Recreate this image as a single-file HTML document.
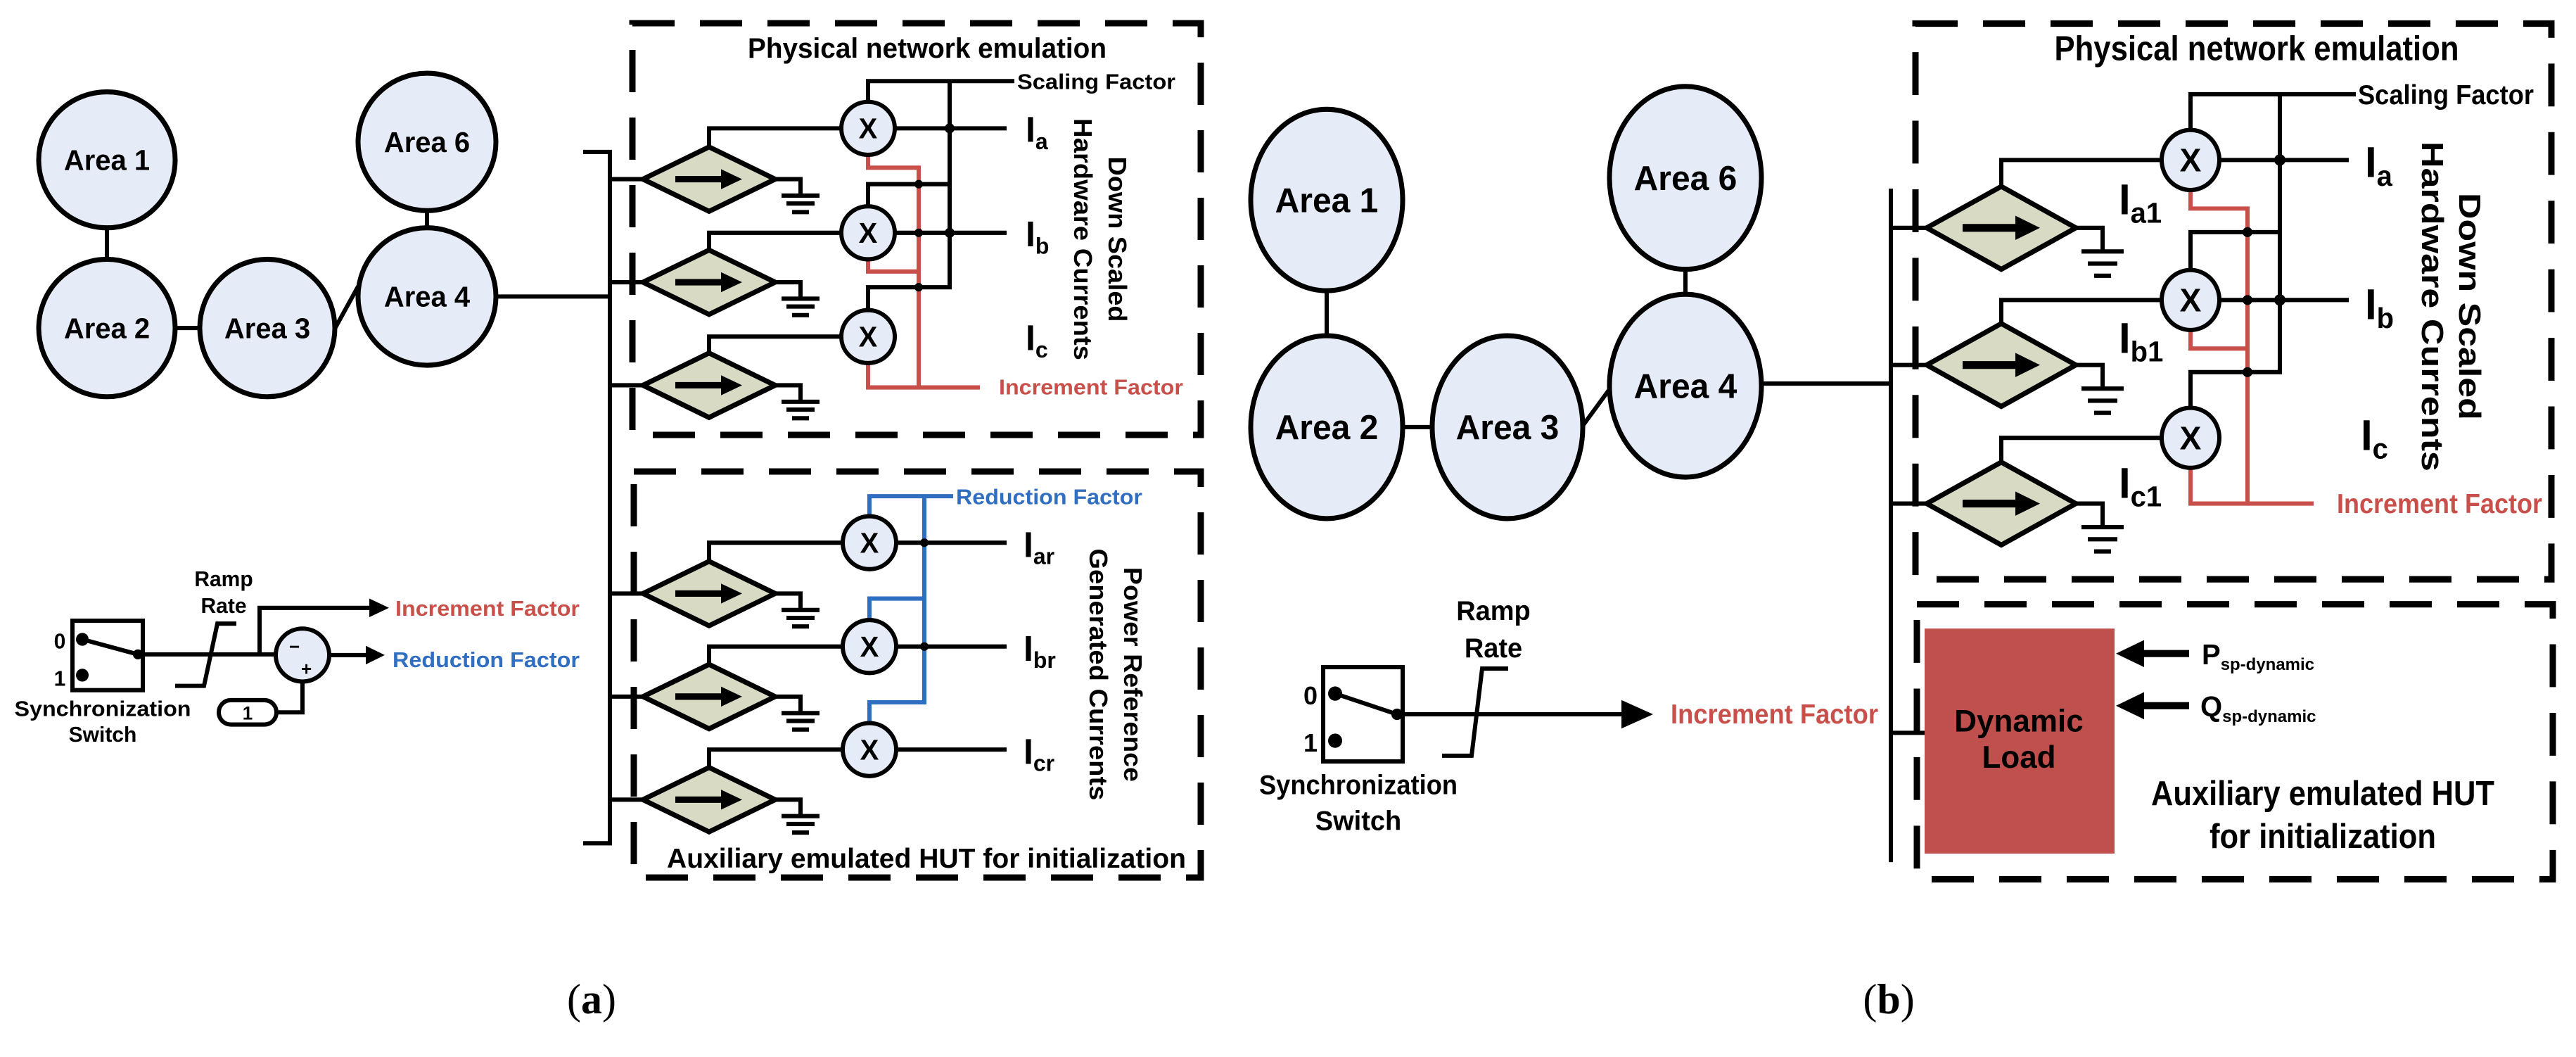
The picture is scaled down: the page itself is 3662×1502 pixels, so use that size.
<!DOCTYPE html>
<html><head><meta charset="utf-8"><style>
html,body{margin:0;padding:0;background:#fff;}
svg{display:block;}
text{font-family:"Liberation Sans Narrow","Liberation Sans",sans-serif;font-weight:bold;}
.s{stroke:#000;stroke-width:6;fill:none;}
.r{stroke:#c9504a;stroke-width:6;fill:none;}
.b{stroke:#2f6ec0;stroke-width:6;fill:none;}
.d{stroke:#000;stroke-width:9;fill:none;stroke-dasharray:60 36;}
.el{fill:#e6ecf7;stroke:#000;stroke-width:7;}
.dm{fill:#d8dac4;stroke:#000;stroke-width:7;}
.x{fill:#e6ecf7;stroke:#000;stroke-width:6;}
</style></head><body>
<svg width="3662" height="1502" viewBox="0 0 3662 1502" xmlns="http://www.w3.org/2000/svg">

<!-- ================= PANEL A ================= -->
<g transform="translate(0,-1.7) scale(1,1.017)">
<line class="s" x1="152" y1="320" x2="152" y2="365"/>
<line class="s" x1="249" y1="460" x2="284" y2="460"/>
<line class="s" x1="607" y1="296" x2="607" y2="320"/>
<line class="s" x1="477" y1="459" x2="509" y2="402"/>
<line class="s" x1="705" y1="416" x2="867" y2="416"/>
<ellipse class="el" cx="152" cy="225" rx="97" ry="95"/>
<ellipse class="el" cx="152" cy="460" rx="97" ry="96"/>
<ellipse class="el" cx="380" cy="460" rx="96" ry="96"/>
<ellipse class="el" cx="607" cy="416" rx="98" ry="96"/>
<ellipse class="el" cx="607" cy="200" rx="98" ry="96"/>
<g font-size="40" text-anchor="middle">
<text x="152" y="239">Area 1</text><text x="152" y="474">Area 2</text>
<text x="380" y="474">Area 3</text><text x="607" y="430">Area 4</text>
<text x="607" y="214">Area 6</text></g>
<path class="s" d="M829,214 H867 V1180 H829"/>
</g>

<rect class="d" x="899" y="33" width="808" height="585"/>
<rect class="d" x="901" y="670" width="806" height="577"/>
<text x="1318" y="82" font-size="40" text-anchor="middle" textLength="510" lengthAdjust="spacingAndGlyphs">Physical network emulation</text>

<g transform="translate(0,-1.7) scale(1,1.017)">
<path class="s" d="M1234,144 V115 H1442"/>
<path class="s" d="M1350,115 V403 H1234 V435"/>
<path class="s" d="M1350,259 H1234 V290"/>
<line class="s" x1="1272" y1="181" x2="1431" y2="181"/>
<line class="s" x1="1272" y1="327" x2="1431" y2="327"/>
<path class="r" d="M1234,218 V236 H1306 V543 M1234,364 V381 H1306 M1234,509 V543 H1393"/>
<g fill="#000"><circle cx="1350" cy="181" r="7"/><circle cx="1350" cy="327" r="7"/></g>
<g fill="#000"><circle cx="1306" cy="259" r="6"/><circle cx="1306" cy="327" r="6"/><circle cx="1306" cy="403" r="6"/></g>

<g>
<path class="s" d="M867,252 H914 M1008,207 V181 H1197 M1102,252 H1138 V275"/>
<polygon class="dm" points="914,252 1008,207 1102,252 1008,297"/>
<path class="s" d="M1111,275 H1165 M1118,286 H1158 M1126,298 H1150"/>
<line x1="960" y1="252" x2="1030" y2="252" stroke="#000" stroke-width="9"/>
<path d="M1025,238 L1055,252 L1025,266z" fill="#000"/>
</g>
<g>
<path class="s" d="M867,396 H914 M1008,351 V327 H1197 M1102,396 H1138 V419"/>
<polygon class="dm" points="914,396 1008,351 1102,396 1008,441"/>
<path class="s" d="M1111,419 H1165 M1118,430 H1158 M1126,442 H1150"/>
<line x1="960" y1="396" x2="1030" y2="396" stroke="#000" stroke-width="9"/>
<path d="M1025,382 L1055,396 L1025,410z" fill="#000"/>
</g>
<g>
<path class="s" d="M867,540 H914 M1008,495 V472 H1197 M1102,540 H1138 V563"/>
<polygon class="dm" points="914,540 1008,495 1102,540 1008,585"/>
<path class="s" d="M1111,563 H1165 M1118,574 H1158 M1126,586 H1150"/>
<line x1="960" y1="540" x2="1030" y2="540" stroke="#000" stroke-width="9"/>
<path d="M1025,526 L1055,540 L1025,554z" fill="#000"/>
</g>
<g font-size="40" text-anchor="middle">
<ellipse class="x" cx="1234" cy="181" rx="38" ry="37"/><text x="1234" y="195">X</text>
<ellipse class="x" cx="1234" cy="327" rx="38" ry="37"/><text x="1234" y="341">X</text>
<ellipse class="x" cx="1234" cy="472" rx="38" ry="37"/><text x="1234" y="486">X</text>
</g>
<text x="1446" y="126" font-size="30" textLength="225" lengthAdjust="spacingAndGlyphs">Scaling Factor</text>
<text x="1420" y="553" font-size="30" fill="#c9504a" textLength="262" lengthAdjust="spacingAndGlyphs">Increment Factor</text>
<g font-size="50"><text x="1458" y="200">I<tspan font-size="32" dy="10">a</tspan></text>
<text x="1458" y="346">I<tspan font-size="32" dy="10">b</tspan></text>
<text x="1458" y="491">I<tspan font-size="32" dy="10">c</tspan></text></g>
<g font-size="36" text-anchor="middle" style="font-family:'Liberation Sans',sans-serif">
<text transform="translate(1527,336) rotate(90)" textLength="338" lengthAdjust="spacingAndGlyphs" style="font-family:'Liberation Sans',sans-serif">Hardware Currents</text>
<text transform="translate(1576,336) rotate(90)" textLength="231" lengthAdjust="spacingAndGlyphs" style="font-family:'Liberation Sans',sans-serif">Down Scaled</text>
</g>

<path class="b" d="M1236,723 V695 H1355 M1314,695 V983 H1236 V1012 M1314,838 H1236 V868"/>
<g fill="#000"><circle cx="1314" cy="760" r="6"/><circle cx="1314" cy="905" r="6"/></g>
<line class="s" x1="1274" y1="760" x2="1431" y2="760"/>
<line class="s" x1="1274" y1="905" x2="1431" y2="905"/>
<line class="s" x1="1274" y1="1049" x2="1431" y2="1049"/>
<g>
<path class="s" d="M867,831 H914 M1008,786 V760 H1198 M1102,831 H1138 V854"/>
<polygon class="dm" points="914,831 1008,786 1102,831 1008,876"/>
<path class="s" d="M1111,854 H1165 M1118,865 H1158 M1126,877 H1150"/>
<line x1="960" y1="831" x2="1030" y2="831" stroke="#000" stroke-width="9"/>
<path d="M1025,817 L1055,831 L1025,845z" fill="#000"/>
</g>
<g>
<path class="s" d="M867,975 H914 M1008,930 V905 H1198 M1102,975 H1138 V998"/>
<polygon class="dm" points="914,975 1008,930 1102,975 1008,1020"/>
<path class="s" d="M1111,998 H1165 M1118,1009 H1158 M1126,1021 H1150"/>
<line x1="960" y1="975" x2="1030" y2="975" stroke="#000" stroke-width="9"/>
<path d="M1025,961 L1055,975 L1025,989z" fill="#000"/>
</g>
<g>
<path class="s" d="M867,1119 H914 M1008,1074 V1049 H1198 M1102,1119 H1138 V1142"/>
<polygon class="dm" points="914,1119 1008,1074 1102,1119 1008,1164"/>
<path class="s" d="M1111,1142 H1165 M1118,1153 H1158 M1126,1165 H1150"/>
<line x1="960" y1="1119" x2="1030" y2="1119" stroke="#000" stroke-width="9"/>
<path d="M1025,1105 L1055,1119 L1025,1133z" fill="#000"/>
</g>
<g font-size="40" text-anchor="middle">
<ellipse class="x" cx="1236" cy="760" rx="38" ry="37"/><text x="1236" y="774">X</text>
<ellipse class="x" cx="1236" cy="905" rx="38" ry="37"/><text x="1236" y="919">X</text>
<ellipse class="x" cx="1236" cy="1049" rx="38" ry="37"/><text x="1236" y="1063">X</text>
</g>
<text x="1359" y="706" font-size="30" fill="#2f6ec0" textLength="265" lengthAdjust="spacingAndGlyphs">Reduction Factor</text>
<g font-size="50"><text x="1455" y="780">I<tspan font-size="32" dy="10">ar</tspan></text>
<text x="1455" y="925">I<tspan font-size="32" dy="10">br</tspan></text>
<text x="1455" y="1069">I<tspan font-size="32" dy="10">cr</tspan></text></g>
<g font-size="36" text-anchor="middle">
<text transform="translate(1549,944) rotate(90)" textLength="352" lengthAdjust="spacingAndGlyphs" style="font-family:'Liberation Sans',sans-serif">Generated Currents</text>
<text transform="translate(1598,944) rotate(90)" textLength="300" lengthAdjust="spacingAndGlyphs" style="font-family:'Liberation Sans',sans-serif">Power Reference</text>
</g>
<text x="1317" y="1214" font-size="38" text-anchor="middle" textLength="738" lengthAdjust="spacingAndGlyphs">Auxiliary emulated HUT for initialization</text>

<rect class="s" x="103" y="869" width="100" height="97"/>
<circle cx="117" cy="895" r="9" fill="#000"/><circle cx="117" cy="945" r="9" fill="#000"/>
<circle cx="196" cy="916" r="7" fill="#000"/>
<line class="s" x1="117" y1="895" x2="196" y2="916"/>
<text x="85" y="908" font-size="30" text-anchor="middle">0</text>
<text x="85" y="960" font-size="30" text-anchor="middle">1</text>
<line class="s" x1="196" y1="916" x2="392" y2="916"/>
<path class="s" d="M249,960 H290 L309,873 H336"/>
<text x="318" y="821" font-size="30" text-anchor="middle">Ramp</text>
<text x="318" y="858" font-size="30" text-anchor="middle">Rate</text>
<path class="s" d="M369,916 V851 H530"/>
<path d="M525,838 L553,851 L525,864z" fill="#000"/>
<text x="562" y="862" font-size="30" fill="#c9504a" textLength="262" lengthAdjust="spacingAndGlyphs">Increment Factor</text>
<ellipse class="x" cx="430" cy="917" rx="38" ry="37"/>
<text x="411" y="914" font-size="26">−</text><text x="428" y="945" font-size="26">+</text>
<line class="s" x1="468" y1="917" x2="525" y2="917"/>
<path d="M520,904 L547,917 L520,930z" fill="#000"/>
<text x="558" y="934" font-size="30" fill="#2f6ec0" textLength="266" lengthAdjust="spacingAndGlyphs">Reduction Factor</text>
<rect class="s" x="311" y="980" width="82" height="34" rx="17"/>
<text x="352" y="1007" font-size="26" text-anchor="middle">1</text>
<path class="s" d="M393,997 H430 V954"/>
<text x="146" y="1002" font-size="30" text-anchor="middle" textLength="251" lengthAdjust="spacingAndGlyphs">Synchronization</text>
<text x="146" y="1038" font-size="30" text-anchor="middle">Switch</text>
</g>

<text x="841" y="1440" font-size="60" text-anchor="middle" style="font-family:'Liberation Serif',serif;font-weight:normal">(<tspan style="font-weight:bold">a</tspan>)</text>
<text x="2685" y="1440" font-size="60" text-anchor="middle" style="font-family:'Liberation Serif',serif;font-weight:normal">(<tspan style="font-weight:bold">b</tspan>)</text>

<!-- ================= PANEL B ================= -->
<g transform="scale(1,1.015)">
<line class="s" x1="1886" y1="405" x2="1886" y2="473"/>
<line class="s" x1="1994" y1="598" x2="2035" y2="598"/>
<line class="s" x1="2396" y1="375" x2="2396" y2="414"/>
<line class="s" x1="2250" y1="596" x2="2288" y2="545"/>
<line class="s" x1="2504" y1="537" x2="2688" y2="537"/>
<ellipse class="el" cx="1886" cy="280" rx="108" ry="127"/>
<ellipse class="el" cx="1886" cy="598" rx="108" ry="128"/>
<ellipse class="el" cx="2143" cy="598" rx="107" ry="128"/>
<ellipse class="el" cx="2396" cy="540" rx="108" ry="128"/>
<ellipse class="el" cx="2396" cy="249" rx="108" ry="128"/>
<g font-size="48" text-anchor="middle">
<text x="1886" y="297">Area 1</text><text x="1886" y="615">Area 2</text>
<text x="2143" y="615">Area 3</text><text x="2396" y="557">Area 4</text>
<text x="2396" y="266">Area 6</text></g>
<line class="s" x1="2688" y1="264" x2="2688" y2="1207"/>

<rect class="d" x="2723" y="33" width="904" height="778"/>
<rect class="d" x="2725" y="846" width="904" height="385"/>
<text x="3208" y="84" font-size="48" text-anchor="middle" textLength="575" lengthAdjust="spacingAndGlyphs">Physical network emulation</text>

<path class="s" d="M3114,183 V132 H3349"/>
<path class="s" d="M3241,132 V521 H3114 V572"/>
<path class="s" d="M3241,325 H3114 V378"/>
<line class="s" x1="3155" y1="224" x2="3339" y2="224"/>
<line class="s" x1="3155" y1="420" x2="3339" y2="420"/>
<path class="r" d="M3114,266 V292 H3195 V705 M3114,462 V488 H3195 M3114,655 V705 H3289"/>
<g fill="#000"><circle cx="3241" cy="224" r="8"/><circle cx="3241" cy="420" r="8"/>
<circle cx="3195" cy="325" r="7"/><circle cx="3195" cy="420" r="7"/><circle cx="3195" cy="521" r="7"/></g>

<g>
<path class="s" d="M2688,319 H2739 M2845,261 V224 H3073 M2951,319 H2989 V352"/>
<polygon class="dm" points="2739,319 2845,261 2951,319 2845,377"/>
<path class="s" d="M2959,352 H3019 M2968,369 H3010 M2977,386 H3001"/>
<line x1="2790" y1="319" x2="2870" y2="319" stroke="#000" stroke-width="11"/>
<path d="M2865,302 L2900,319 L2865,336z" fill="#000"/>
</g>
<g>
<path class="s" d="M2688,511 H2739 M2845,453 V420 H3073 M2951,511 H2989 V544"/>
<polygon class="dm" points="2739,511 2845,453 2951,511 2845,569"/>
<path class="s" d="M2959,544 H3019 M2968,561 H3010 M2977,578 H3001"/>
<line x1="2790" y1="511" x2="2870" y2="511" stroke="#000" stroke-width="11"/>
<path d="M2865,494 L2900,511 L2865,528z" fill="#000"/>
</g>
<g>
<path class="s" d="M2688,705 H2739 M2845,647 V613 H3073 M2951,705 H2989 V738"/>
<polygon class="dm" points="2739,705 2845,647 2951,705 2845,763"/>
<path class="s" d="M2959,738 H3019 M2968,755 H3010 M2977,772 H3001"/>
<line x1="2790" y1="705" x2="2870" y2="705" stroke="#000" stroke-width="11"/>
<path d="M2865,688 L2900,705 L2865,722z" fill="#000"/>
</g>
<g font-size="46" text-anchor="middle">
<ellipse class="x" cx="3114" cy="224" rx="41" ry="42"/><text x="3114" y="240">X</text>
<ellipse class="x" cx="3114" cy="420" rx="41" ry="42"/><text x="3114" y="436">X</text>
<ellipse class="x" cx="3114" cy="613" rx="41" ry="42"/><text x="3114" y="629">X</text>
</g>
<text x="3352" y="146" font-size="38" textLength="250" lengthAdjust="spacingAndGlyphs">Scaling Factor</text>
<text x="3322" y="718" font-size="38" fill="#c9504a" textLength="292" lengthAdjust="spacingAndGlyphs">Increment Factor</text>
<g font-size="60"><text x="3362" y="248">I<tspan font-size="40" dy="12">a</tspan></text>
<text x="3362" y="447">I<tspan font-size="40" dy="12">b</tspan></text>
<text x="3356" y="630">I<tspan font-size="40" dy="12">c</tspan></text>
<text x="3012" y="300">I<tspan font-size="40" dy="12">a1</tspan></text>
<text x="3012" y="494">I<tspan font-size="40" dy="12">b1</tspan></text>
<text x="3012" y="697">I<tspan font-size="40" dy="12">c1</tspan></text></g>
<g font-size="44" text-anchor="middle">
<text transform="translate(3443,429) rotate(90)" textLength="462" lengthAdjust="spacingAndGlyphs" style="font-family:'Liberation Sans',sans-serif">Hardware Currents</text>
<text transform="translate(3496,429) rotate(90)" textLength="318" lengthAdjust="spacingAndGlyphs" style="font-family:'Liberation Sans',sans-serif">Down Scaled</text>
</g>

<line class="s" x1="2688" y1="1026" x2="2736" y2="1026"/>
<rect x="2736" y="880" width="270" height="315" fill="#c0504d"/>
<text x="2870" y="1024" font-size="44" text-anchor="middle">Dynamic</text>
<text x="2870" y="1075" font-size="44" text-anchor="middle">Load</text>
<line x1="3040" y1="915" x2="3112" y2="915" stroke="#000" stroke-width="10"/>
<path d="M3008,915 L3048,896 L3048,934z" fill="#000"/>
<line x1="3040" y1="988" x2="3112" y2="988" stroke="#000" stroke-width="10"/>
<path d="M3008,988 L3048,969 L3048,1007z" fill="#000"/>
<text x="3130" y="930" font-size="40">P<tspan font-size="24" dy="8">sp-dynamic</tspan></text>
<text x="3128" y="1003" font-size="40">Q<tspan font-size="24" dy="8">sp-dynamic</tspan></text>
<text x="3302" y="1127" font-size="48" text-anchor="middle" textLength="488" lengthAdjust="spacingAndGlyphs">Auxiliary emulated HUT</text>
<text x="3302" y="1187" font-size="48" text-anchor="middle" textLength="322" lengthAdjust="spacingAndGlyphs">for initialization</text>

<rect class="s" x="1881" y="934" width="113" height="132"/>
<circle cx="1898" cy="971" r="10" fill="#000"/><circle cx="1898" cy="1037" r="10" fill="#000"/>
<circle cx="1986" cy="1000" r="8" fill="#000"/>
<line class="s" x1="1898" y1="971" x2="1986" y2="1000"/>
<text x="1863" y="986" font-size="36" text-anchor="middle">0</text>
<text x="1863" y="1052" font-size="36" text-anchor="middle">1</text>
<line class="s" x1="1986" y1="1000" x2="2310" y2="1000"/>
<path d="M2305,980 L2350,1000 L2305,1020z" fill="#000"/>
<path class="s" d="M2050,1058 H2092 L2107,936 H2144"/>
<text x="2123" y="868" font-size="38" text-anchor="middle">Ramp</text>
<text x="2123" y="920" font-size="38" text-anchor="middle">Rate</text>
<text x="2375" y="1013" font-size="38" fill="#c9504a" textLength="295" lengthAdjust="spacingAndGlyphs">Increment Factor</text>
<text x="1931" y="1112" font-size="38" text-anchor="middle" textLength="282" lengthAdjust="spacingAndGlyphs">Synchronization</text>
<text x="1931" y="1162" font-size="38" text-anchor="middle">Switch</text>
</g>
</svg>
</body></html>
